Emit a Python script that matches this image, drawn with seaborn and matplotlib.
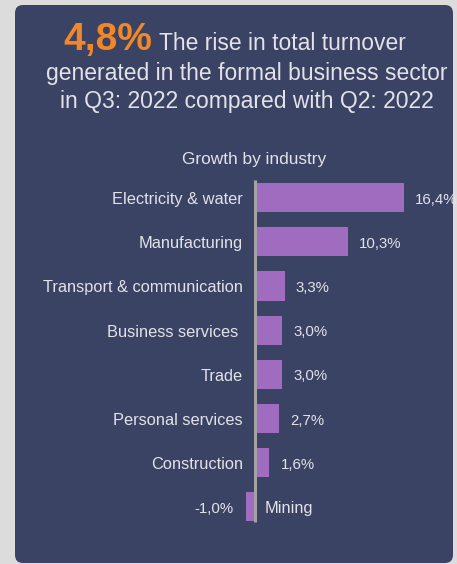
import matplotlib
matplotlib.use("Agg")
import matplotlib.pyplot as plt
from matplotlib.patches import FancyBboxPatch
from matplotlib.transforms import IdentityTransform
import seaborn as sns
import pandas as pd

categories = ["Electricity & water", "Manufacturing", "Transport & communication",
              "Business services ", "Trade", "Personal services", "Construction", "Mining"]
values = [16.4, 10.3, 3.3, 3.0, 3.0, 2.7, 1.6, -1.0]
value_labels = ["16,4%", "10,3%", "3,3%", "3,0%", "3,0%", "2,7%", "1,6%", "-1,0%"]
headline_number = "4,8%"
headline_lines = ["The rise in total turnover",
                  "generated in the formal business sector",
                  "in Q3: 2022 compared with Q2: 2022"]
subtitle = "Growth by industry"

BG = "#dcdcdc"
PANEL = "#3a4364"
BAR = "#a06cc0"
TEXT = "#e2e2e8"
ORANGE = "#f0882a"
AXIS = "#a3a3a3"

sns.set_theme(style="white")
plt.rcParams["font.family"] = ["Liberation Sans", "DejaVu Sans"]

W, H = 457, 564
fig = plt.figure(figsize=(W / 100, H / 100), dpi=100)
fig.patch.set_facecolor(BG)

# panel (pixel coords, origin bottom-left)
panel = FancyBboxPatch((15, H - 563), 453 - 15, 563 - 5,
                       boxstyle="round,pad=0,rounding_size=8",
                       facecolor=PANEL, edgecolor="none",
                       transform=IdentityTransform(), zorder=0)
fig.add_artist(panel)

def fx(px):
    return px / W

def fy(py):
    return 1 - py / H

# headline
fig.text(fx(152), fy(50), headline_number, color=ORANGE, fontsize=28,
         fontweight="bold", ha="right", va="baseline")
fig.text(fx(159), fy(50), headline_lines[0], color=TEXT, fontsize=16.5,
         ha="left", va="baseline")
fig.text(fx(247), fy(80), headline_lines[1], color=TEXT, fontsize=16.5,
         ha="center", va="baseline")
fig.text(fx(247), fy(108), headline_lines[2], color=TEXT, fontsize=16.5,
         ha="center", va="baseline")
fig.text(fx(254), fy(164), subtitle, color=TEXT, fontsize=12.4,
         ha="center", va="baseline")

# axes placement
zero_px = 255
scale = 9.06  # px per unit
ax_left, ax_right = 235, 440
ax_top, ax_bottom = 175.5, 529
ax = fig.add_axes([fx(ax_left), fy(ax_bottom), (ax_right - ax_left) / W,
                   (ax_bottom - ax_top) / H])
ax.set_facecolor("none")

df = pd.DataFrame({"industry": categories, "growth": values})
sns.barplot(data=df, x="growth", y="industry", orient="h", color=BAR,
            width=0.66, saturation=1, ax=ax)
for p in ax.patches:
    p.set_edgecolor("none")

ax.set_xlim((ax_left - zero_px) / scale, (ax_right - zero_px) / scale)
ax.set_ylim(7.5, -0.5)
ax.axis("off")

ax.plot([0, 0], [-0.4, 7.34], color=AXIS, lw=2.2, solid_capstyle="butt",
        clip_on=False, zorder=5)

CAT_FS, VAL_FS = 11.8, 10.8
for i, (cat, v, lab) in enumerate(zip(categories, values, value_labels)):
    if v >= 0:
        ax.annotate(cat, (0, i), xytext=(-12, -6.5), textcoords="offset pixels",
                    ha="right", va="baseline", color=TEXT, fontsize=CAT_FS,
                    annotation_clip=False)
        ax.annotate(lab, (v, i), xytext=(11, -6), textcoords="offset pixels",
                    ha="left", va="baseline", color=TEXT, fontsize=VAL_FS,
                    annotation_clip=False)
    else:
        ax.annotate(cat, (0, i), xytext=(10, -6.5), textcoords="offset pixels",
                    ha="left", va="baseline", color=TEXT, fontsize=CAT_FS,
                    annotation_clip=False)
        ax.annotate(lab, (v, i), xytext=(-12, -6), textcoords="offset pixels",
                    ha="right", va="baseline", color=TEXT, fontsize=VAL_FS,
                    annotation_clip=False)

fig.savefig("out.png", dpi=100, facecolor=BG)
